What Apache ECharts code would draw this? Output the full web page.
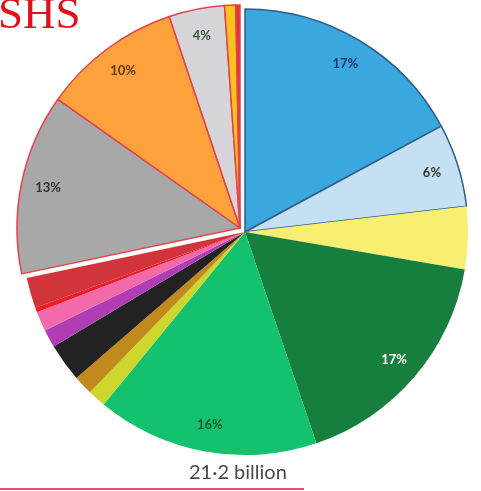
<!DOCTYPE html>
<html>
<head>
<meta charset="utf-8">
<script src="https://cdn.jsdelivr.net/npm/echarts@6/dist/echarts.min.js"></script>
<style>
  html, body { margin: 0; padding: 0; background: #ffffff; }
  #chart { width: 481px; height: 491px; }
</style>
</head>
<body>
<div id="chart"></div>
<script>
// Segment shares (percent), clockwise from 12 o'clock
const segmentNames = [
  'Blue', 'Light blue', 'Yellow', 'Dark green', 'Green',
  'Lime', 'Ochre', 'Black', 'Purple', 'Pink', 'Red', 'Crimson',
  'Grey', 'Orange', 'Light grey', 'Amber', 'Scarlet'
];
const segmentShares = [17, 6, 4.5, 17, 16, 1.3, 1.4, 2.75, 1.3, 1.4, 0.35, 2.2, 13, 10, 4, 0.8, 0.3];
const segmentLabels = ['17%', '6%', '', '17%', '16%', '', '', '', '', '', '', '', '13%', '10%', '4%', '', ''];
// 0 = main block, 1 = the pulled-out block at the upper left
const segmentGroup = [0, 0, 0, 0, 0, 0, 0, 0, 0, 0, 0, 0, 1, 1, 1, 1, 1];

const segmentColors = [
  '#3aa7df', '#c6e0f3', '#f8ef72', '#177f3d', '#14c26d',
  '#cdd62c', '#c08a1c', '#222222', '#b03db3', '#f36aaa', '#ee1c25', '#d2343c',
  '#a8a8a8', '#fca13b', '#d5d5da', '#fcc21e', '#e2343a'
];
const segmentBorders = [
  '#2c5e8e', '#2c5e8e', null, null, null,
  null, null, null, null, null, null, null,
  '#e5434f', '#e5434f', '#e5434f', '#e5434f', '#e5434f'
];
const labelColors = [
  '#1f3b66', '#333333', '#333333', '#ffffff', '#0d5a2c',
  '#333333', '#333333', '#333333', '#333333', '#333333', '#333333', '#333333',
  '#333333', '#5a3a12', '#3d523f', '#333333', '#333333'
];

const totalText = '21\u00B72 billion';
const titleText = 'SHS';

const R = 223;
const groupCenters = [[245, 232], [240, 228]];
const clear = 'rgba(0,0,0,0)';

function shapeSeries(group) {
  return {
    type: 'pie',
    center: groupCenters[group],
    radius: [0, R],
    startAngle: 90,
    clockwise: true,
    silent: true,
    animation: false,
    label: { show: false },
    labelLine: { show: false },
    data: segmentShares.map((v, i) => {
      const mine = segmentGroup[i] === group;
      return {
        name: segmentNames[i],
        value: v,
        itemStyle: mine
          ? {
              color: segmentColors[i],
              borderColor: segmentBorders[i] || segmentColors[i],
              borderWidth: segmentBorders[i] ? 1.5 : 0
            }
          : { color: clear, borderWidth: 0 }
      };
    })
  };
}

// Ring-shaped transparent overlay so the percentage labels sit near the rim
function labelSeries(group) {
  return {
    type: 'pie',
    center: groupCenters[group],
    radius: [R - 60, R],
    startAngle: 90,
    clockwise: true,
    silent: true,
    animation: false,
    labelLine: { show: false },
    itemStyle: { color: clear, borderWidth: 0 },
    data: segmentShares.map((v, i) => {
      const show = segmentGroup[i] === group && segmentLabels[i] !== '';
      return {
        name: segmentNames[i],
        value: v,
        label: {
          show: show,
          position: 'inside',
          formatter: segmentLabels[i] || ' ',
          color: labelColors[i],
          fontFamily: 'Lato',
          fontWeight: 'bold',
          fontSize: 13
        }
      };
    })
  };
}

const chart = echarts.init(document.getElementById('chart'), null, { renderer: 'canvas' });
chart.setOption({
  backgroundColor: '#ffffff',
  animation: false,
  series: [shapeSeries(0), shapeSeries(1), labelSeries(0), labelSeries(1)],
  graphic: [
    {
      type: 'text',
      left: -2,
      top: -6,
      style: {
        text: titleText,
        fill: '#e01018',
        font: '45px "Liberation Serif"'
      }
    },
    {
      type: 'text',
      left: 189,
      top: 463,
      style: {
        text: totalText,
        fill: '#4a4a4a',
        font: '20px Lato'
      }
    },
    {
      type: 'rect',
      shape: { x: 0, y: 488, width: 304, height: 2 },
      style: { fill: '#ea4f6a' }
    }
  ]
});
</script>
</body>
</html>
